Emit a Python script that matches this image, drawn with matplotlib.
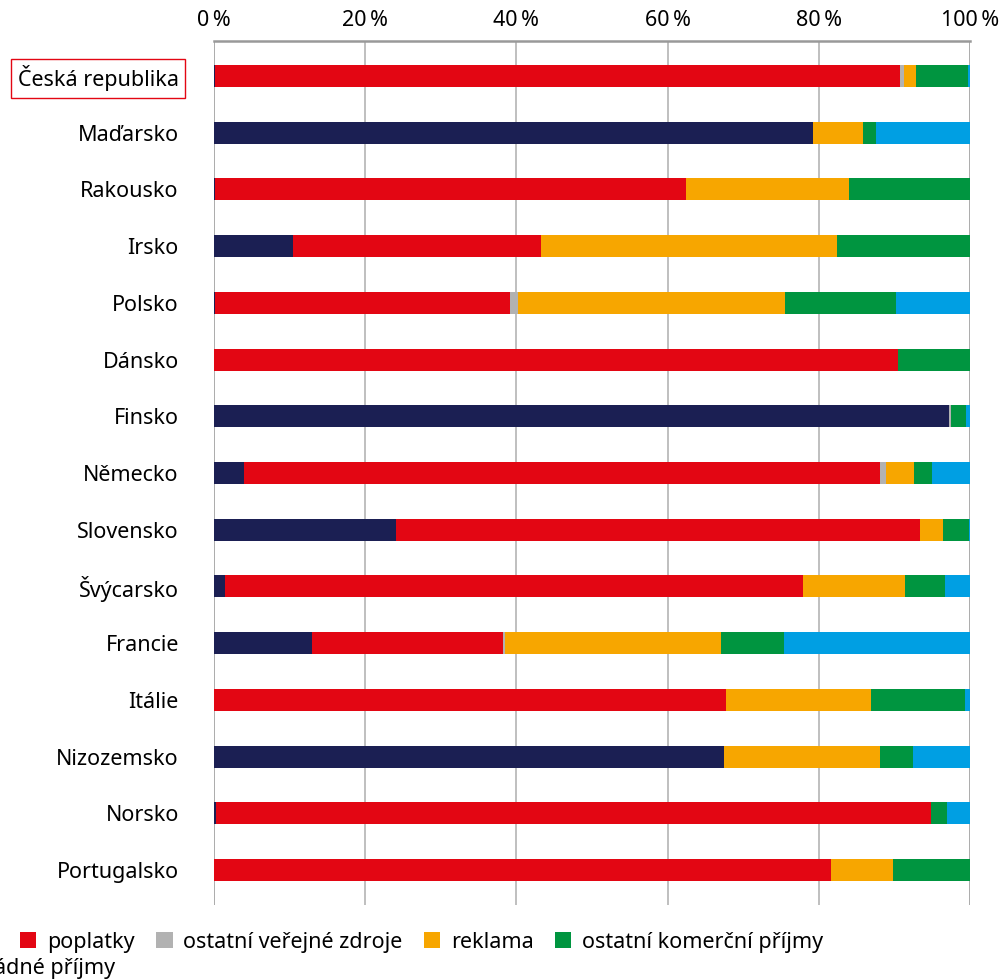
import numpy as np
import matplotlib
matplotlib.use("Agg")
import matplotlib.pyplot as plt

plt.rcParams['font.family'] = ['Noto Sans', 'DejaVu Sans']

# zeme a podily zdroju financovani (v %)
zeme = ["Česká republika", "Maďarsko", "Rakousko", "Irsko", "Polsko", "Dánsko",
        "Finsko", "Německo", "Slovensko", "Švýcarsko", "Francie", "Itálie",
        "Nizozemsko", "Norsko", "Portugalsko"]
statni_rozpocet = [0.2, 79.2, 0.2, 10.5, 0.2, 0, 97.2, 4.0, 24.1, 1.5, 13.0, 0, 67.5, 0.3, 0]
poplatky = [90.5, 0, 62.2, 32.8, 39.0, 90.4, 0, 84.1, 69.3, 76.4, 25.3, 67.7, 0, 94.5, 81.6]
ostatni_verejne = [0.5, 0, 0, 0, 1.0, 0, 0.2, 0.8, 0, 0, 0.2, 0, 0, 0, 0]
reklama = [1.6, 6.6, 21.6, 39.1, 35.3, 0, 0, 3.7, 3.0, 13.5, 28.6, 19.2, 20.6, 0, 8.2]
ostatni_komercni = [6.9, 1.7, 16.0, 17.6, 14.7, 9.6, 2.0, 2.3, 3.4, 5.3, 8.3, 12.4, 4.3, 2.1, 10.2]
mimoradne = [0.3, 12.5, 0, 0, 9.8, 0, 0.6, 5.1, 0.2, 3.3, 24.6, 0.7, 7.6, 3.1, 0]

serie = [
    ("státní rozpočet", statni_rozpocet, "#1b1f53"),
    ("poplatky", poplatky, "#e30613"),
    ("ostatní veřejné zdroje", ostatni_verejne, "#b2b2b2"),
    ("reklama", reklama, "#f7a600"),
    ("ostatní komerční příjmy", ostatni_komercni, "#009540"),
    ("mimořádné příjmy", mimoradne, "#009fe3"),
]

W, H = 1002, 980
fig = plt.figure(figsize=(W / 100, H / 100), dpi=100)
ax = fig.add_axes([213.5 / W, 1 - 905 / H, (970.3 - 213.5) / W, (905 - 41) / H])

y = np.arange(len(zeme))
left = np.zeros(len(zeme))
handles = []
for nazev, hodnoty, barva in serie:
    h = ax.barh(y, hodnoty, left=left, height=0.39, color=barva, label=nazev, zorder=3)
    handles.append(h)
    left += np.array(hodnoty)

ax.set_xlim(0, 100)
ax.set_ylim(len(zeme) - 1 + 0.617, -0.617)

ax.set_xticks(range(0, 101, 20))
ax.set_xticklabels([f"{v}\u202f%" for v in range(0, 101, 20)])
ax.xaxis.tick_top()
ax.tick_params(axis='x', length=0, pad=7, labelsize=15.5)
ax.set_yticks(y)
ax.set_yticklabels(zeme)
ax.tick_params(axis='y', length=0, pad=25, labelsize=15.5)

ax.grid(axis='x', color='#b4b4b4', linewidth=1.2, zorder=0)
ax.axvline(0, color='#888888', linewidth=1.4, zorder=1)
ax.axvline(100, color='#888888', linewidth=1.4, zorder=1)
for s in ['right', 'bottom', 'left']:
    ax.spines[s].set_visible(False)
ax.spines['top'].set_color('#999999')
ax.spines['top'].set_linewidth(1.8)

ax.get_yticklabels()[0].set_bbox(dict(boxstyle='square,pad=0.3', fc='white',
                                      ec='#e30613', lw=1))

# legenda - dva radky, preteka pres levy okraj jako v predloze
leg_kw = dict(frameon=False, fontsize=15.5, handlelength=0.75, handleheight=0.75,
              handletextpad=0.5, columnspacing=1.0, borderpad=0, loc='center left')
fig.legend(handles[:5], [s[0] for s in serie[:5]], ncol=5,
           bbox_to_anchor=(-190 / W, 1 - 942 / H), **leg_kw)
fig.legend(handles[5:], [serie[5][0]], ncol=1,
           bbox_to_anchor=(-112 / W, 1 - 968 / H), **leg_kw)

plt.savefig('out.png', dpi=100)
